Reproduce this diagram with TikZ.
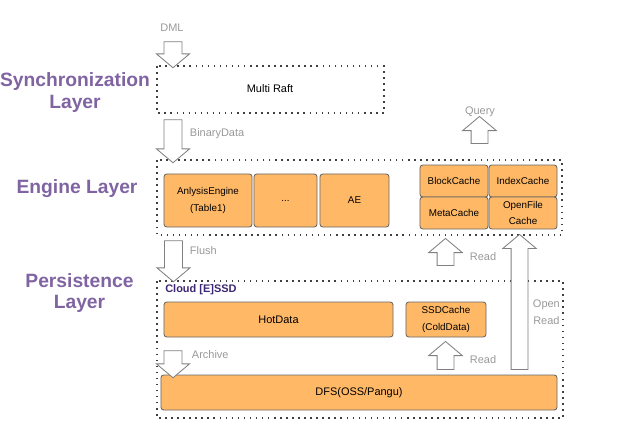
\documentclass[tikz,border=0pt]{standalone}
\usepackage{fontspec}
\setmainfont{Liberation Sans}
\usepackage{tikz}
\usetikzlibrary{arrows.meta, positioning, calc, shapes.arrows}
\usepackage{xcolor}
\definecolor{layerpurple}{HTML}{8064A2}
\definecolor{cloudpurple}{HTML}{3D2673}
\definecolor{boxorange}{HTML}{FFB866}
\definecolor{boxline}{HTML}{666666}
\definecolor{notegray}{HTML}{999999}
\definecolor{arrowgray}{HTML}{808080}

\begin{document}
\begin{tikzpicture}[
  x=0.025cm, y=-0.025cm,
  layerbox/.style={draw=black!75, line width=1.1pt,
    dash pattern=on 1.1pt off 3.2pt},
  layername/.style={font=\fontsize{13.7}{15.2}\selectfont\bfseries,
    text=layerpurple, align=center},
  unit/.style={draw=boxline, fill=boxorange, rounded corners=2pt,
    line width=0.6pt, inner sep=0pt, align=center},
  bigtext/.style={font=\fontsize{7.8}{9}\selectfont},
  smalltext/.style={font=\fontsize{7}{12}\selectfont},
  note/.style={font=\fontsize{7.8}{12}\selectfont, text=notegray,
    align=center},
  flow/.style={single arrow, draw=arrowgray, fill=white, line width=0.6pt,
    inner sep=0pt, single arrow head indent=0pt,
    single arrow tip angle=100, text depth=0pt},
  down/.style={flow, rotate=-90, text height=0.425cm,
    single arrow head extend=0.19cm},
  up/.style={flow, rotate=90, text height=0.4cm,
    single arrow head extend=0.21cm}
]
  \useasboundingbox (0,0) rectangle (640,436);

  % Layer names
  \node[layername] (synclab) at (75,92.5) {Synchronization\\Layer};
  \node[layername] (englab) at (77,189) {Engine Layer};
  \node[layername] (perslab) at (79.5,293) {Persistence\\Layer};

  % Synchronization layer
  \draw[layerbox] (157,66) rectangle (384,113);
  \node[bigtext] (raft) at (270,89) {Multi Raft};

  % Engine layer
  \draw[layerbox] (157,160) rectangle (562,235);
  \node[unit, smalltext, minimum width=2.2cm, minimum height=1.325cm]
    (ae1) at (208,200.5) {AnlysisEngine\\(Table1)};
  \node[unit, smalltext, minimum width=1.575cm, minimum height=1.325cm]
    (aedots) at (285.5,200.5) {...};
  \node[unit, smalltext, minimum width=1.725cm, minimum height=1.325cm]
    (aen) at (354.5,200.5) {AE};
  \node[unit, smalltext, minimum width=1.7cm, minimum height=0.8cm]
    (block) at (454,181) {BlockCache};
  \node[unit, smalltext, minimum width=1.7cm, minimum height=0.8cm]
    (index) at (523,181) {IndexCache};
  \node[unit, smalltext, minimum width=1.7cm, minimum height=0.8cm]
    (meta) at (454,213) {MetaCache};
  \node[unit, smalltext, minimum width=1.7cm, minimum height=0.8cm]
    (openfile) at (523,213) {OpenFile\\Cache};

  % Persistence layer
  \draw[layerbox] (157,281) rectangle (563,418);
  \node[font=\fontsize{7.8}{9}\selectfont\bfseries, text=cloudpurple,
    anchor=west, inner sep=0pt] (cloud) at (165,290) {Cloud [E]SSD};
  \node[unit, bigtext, minimum width=5.725cm, minimum height=0.875cm]
    (hot) at (278.5,319.5) {HotData};
  \node[unit, smalltext, minimum width=2cm, minimum height=0.875cm]
    (ssd) at (446,319.5) {SSDCache\\(ColdData)};
  \node[unit, bigtext, minimum width=9.9cm, minimum height=0.875cm]
    (dfs) at (359,392.5) {DFS(OSS/Pangu)};

  % Data flow
  \node[down, minimum height=0.65cm] (dml) at (173,51) {};
  \node[note] (dmllab) at (172,28) {DML};
  \node[down, minimum height=1.075cm] (binary) at (173,137.5) {};
  \node[note, anchor=west] (binlab) at (185,134) {BinaryData};
  \node[down, minimum height=1.025cm] (flush) at (173.5,257.5) {};
  \node[note, anchor=west] (flushlab) at (185,251) {Flush};
  \node[down, minimum height=0.675cm] (archive) at (173,360.5) {};
  \node[note, anchor=west] (archlab) at (187,355) {Archive};
  \node[up, minimum height=0.675cm] (query) at (479.5,133.5) {};
  \node[note] (querylab) at (480,112) {Query};
  \node[up, minimum height=0.675cm] (readup) at (445.5,255.5) {};
  \node[note, anchor=west] (readuplab) at (465,257) {Read};
  \node[up, minimum height=0.7cm] (readlow) at (445.5,359) {};
  \node[note, anchor=west] (readlowlab) at (465,360) {Read};
  \node[up, minimum height=3.375cm] (openread) at (519.5,305.5) {};
  \node[note, anchor=west] (openlab) at (528,312.5) {Open\\Read};
\end{tikzpicture}
\end{document}
